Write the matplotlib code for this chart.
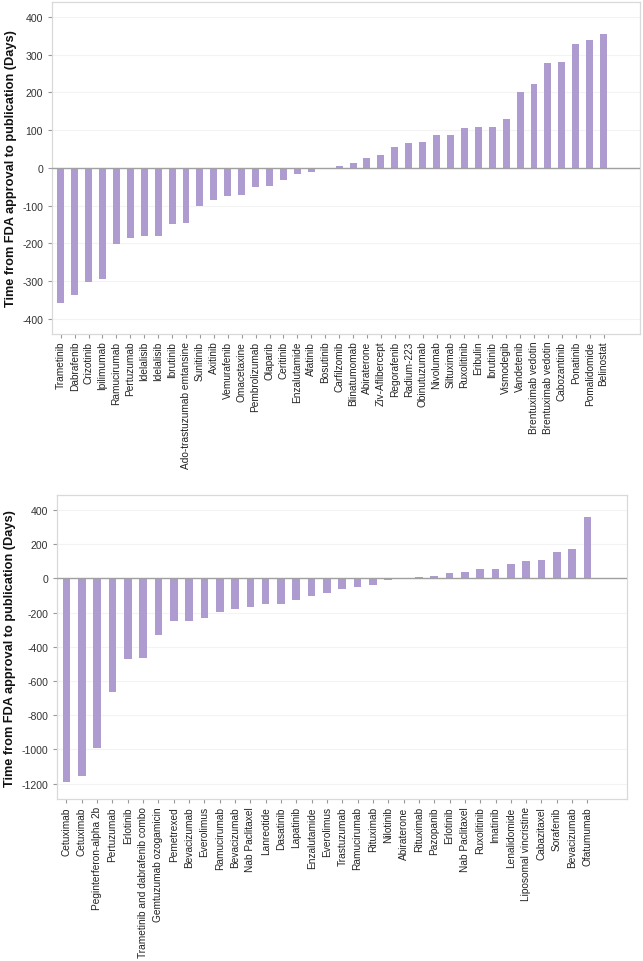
import numpy as np
import matplotlib
matplotlib.use("Agg")
import matplotlib.pyplot as plt

plt.rcParams['font.family'] = ['Liberation Sans', 'DejaVu Sans']

# top panel
top_drugs = ["Trametinib", "Dabrafenib", "Crizotinib", "Ipilimumab", "Ramucirumab",
             "Pertuzumab", "Idelalisib", "Idelalisib", "Ibrutinib", "Ado-trastuzumab emtansine",
             "Sunitinib", "Axitinib", "Vemurafenib", "Omacetaxine", "Pembrolizumab",
             "Olaparib", "Ceritinib", "Enzalutamide", "Afatinib", "Bosutinib",
             "Carfilzomib", "Blinatumomab", "Abiraterone", "Ziv-Aflibercept", "Regorafenib",
             "Radium-223", "Obinutuzumab", "Nivolumab", "Siltuximab", "Ruxolitinib",
             "Eribulin", "Ibrutinib", "Vismodegib", "Vandetenib", "Brentuximab vedotin",
             "Brentuximab vedotin", "Cabozantinib", "Ponatinib", "Pomalidomide", "Belinostat"]
top_days = [-358, -338, -304, -294, -201, -186, -182, -182, -148, -145,
            -100, -85, -74, -72, -52, -47, -33, -16, -10, 0,
            4, 13, 26, 33, 56, 65, 68, 86, 86, 106,
            108, 108, 130, 202, 221, 278, 280, 329, 339, 355]

# bottom panel
bot_drugs = ["Cetuximab", "Cetuximab", "Peginterferon-alpha 2b", "Pertuzumab", "Erlotinib",
             "Trametinib and dabrafenib combo", "Gemtuzumab ozogamicin", "Pemetrexed",
             "Bevacizumab", "Everolimus", "Ramucirumab", "Bevacizumab", "Nab Paclitaxel",
             "Lanreotide", "Dasatinib", "Lapatinib", "Enzalutamide", "Everolimus",
             "Trastuzumab", "Ramucirumab", "Rituximab", "Nilotinib", "Abiraterone",
             "Rituximab", "Pazopanib", "Erlotinib", "Nab Paclitaxel", "Ruxolitinib",
             "Imatinib", "Lenalidomide", "Liposomal vincristine", "Cabazitaxel",
             "Sorafenib", "Bevacizumab", "Ofatumumab"]
bot_days = [-1190, -1155, -990, -662, -472, -466, -328, -250, -246, -230,
            -197, -178, -168, -152, -148, -127, -103, -84, -62, -49,
            -41, -10, 0, 10, 16, 31, 39, 55, 55, 86,
            103, 107, 152, 170, 361]

bar_color = "#ae9bd0"
ylab = "Time from FDA approval to publication (Days)"


def draw(ax, names, vals, yticks, ylim, xpad):
    xs = np.arange(len(names))
    ax.bar(xs, vals, width=0.5, color=bar_color, zorder=3)
    ax.axhline(0, color="#a0a0a0", lw=1.0, zorder=4)
    ax.set_xlim(-0.62, len(names) - 1 + xpad)
    ax.set_ylim(*ylim)
    ax.set_yticks(yticks)
    ax.set_yticklabels([str(t) for t in yticks])
    ax.set_xticks(xs)
    ax.set_xticklabels(names, rotation=90, fontsize=7.3, color="#222222")
    ax.tick_params(axis="y", labelsize=7.6, labelcolor="#333333", length=3, color="#999999")
    ax.tick_params(axis="x", length=3, color="#999999", pad=2)
    ax.yaxis.grid(True, color="#f3f3f3", lw=0.8, zorder=0)
    for s in ax.spines.values():
        s.set_color("#d9d9d9")
        s.set_linewidth(0.9)
    ax.set_ylabel(ylab, fontsize=9.2, fontweight="bold", color="#111111", labelpad=4)


fig = plt.figure(figsize=(6.43, 9.62), dpi=100)

ax1 = fig.add_axes([0.081, 0.652, 0.914, 0.345])
draw(ax1, top_drugs, top_days, [-400, -300, -200, -100, 0, 100, 200, 300, 400], (-440, 440), 2.6)

ax2 = fig.add_axes([0.0886, 0.168, 0.886, 0.316])
draw(ax2, bot_drugs, bot_days, [-1200, -1000, -800, -600, -400, -200, 0, 200, 400], (-1292, 486), 2.56)

fig.savefig("out.png", dpi=100)
